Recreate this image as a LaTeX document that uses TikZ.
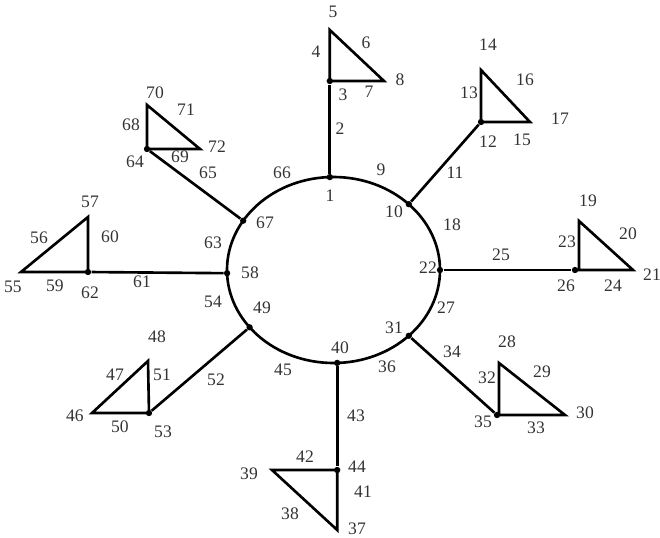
\documentclass[tikz,border=0pt]{standalone}
\usepackage{fontspec}
\setmainfont{Liberation Serif}
\begin{document}
\begin{tikzpicture}[x=0.02cm,y=-0.02cm,
  edge/.style={line width=1.5pt, black, line join=miter},
  dot/.style={circle, fill=black, inner sep=0pt, minimum size=3.6pt},
  lbl/.style={inner sep=0pt, font=\fontsize{10}{12}\selectfont, text=black!80}]
\useasboundingbox (0,0) rectangle (660,538);
% ring
\coordinate (C) at (333.5,270);
\draw[edge] (C) ellipse [x radius=106.5, y radius=93];
% dots on the ring
\node[dot] (n1)  at (329.8,177.1) {};
\node[dot] (n10) at (408.8,204.2) {};
\node[dot] (n22) at (440,270) {};
\node[dot] (n31) at (408.8,335.8) {};
\node[dot] (n40) at (337.2,362.9) {};
\node[dot] (n49) at (249.6,327.3) {};
\node[dot] (n58) at (227.1,273.2) {};
\node[dot] (n67) at (243.2,220.7) {};
% dots at spoke ends
\node[dot] (n3)  at (329.8,81) {};
\node[dot] (n12) at (481,122) {};
\node[dot] (n26) at (575,270) {};
\node[dot] (n35) at (497,415) {};
\node[dot] (n44) at (337.2,470) {};
\node[dot] (n53) at (149,413) {};
\node[dot] (n62) at (88,272) {};
\node[dot] (n64) at (147,149) {};
% triangle vertices
\coordinate (t5) at (329.8,30);   \coordinate (t8) at (384,81);
\coordinate (t14) at (481,70);    \coordinate (t17) at (530,122);
\coordinate (t19) at (579,221);   \coordinate (t23) at (579,270); \coordinate (t21) at (633,270);
\coordinate (t28) at (499,363);   \coordinate (t32) at (499,415); \coordinate (t30) at (565,415);
\coordinate (t39) at (272,470);   \coordinate (t37) at (337.2,530);
\coordinate (t48) at (148,361);   \coordinate (t46) at (92,413);
\coordinate (t57) at (88,217);    \coordinate (t55) at (21,272);
\coordinate (t70) at (147,105);   \coordinate (t72) at (200,149);
% spokes
\draw[edge] (n1) -- (n3);
\draw[edge] (n10) -- (n12);
\draw[edge] (n22) -- (n26);
\draw[edge] (n31) -- (n35);
\draw[edge] (n40) -- (n44);
\draw[edge] (n49) -- (n53);
\draw[edge] (n58) -- (n62);
\draw[edge] (n67) -- (n64);
% triangles
\draw[edge] (n3.center) -- (t5) -- (t8) -- cycle;
\draw[edge] (n12.center) -- (t14) -- (t17) -- cycle;
\draw[edge] (n26.center) -- (t21) -- (t19) -- (t23);
\draw[edge] (n35.center) -- (t32) -- (t28) -- (t30) -- cycle;
\draw[edge] (n44.center) -- (t39) -- (t37) -- cycle;
\draw[edge] (n53.center) -- (t48) -- (t46) -- cycle;
\draw[edge] (n62.center) -- (t57) -- (t55) -- cycle;
\draw[edge] (n64.center) -- (t70) -- (t72) -- cycle;
% labels
\foreach \t/\x/\y in {1/330/196, 2/340/129, 3/343/95, 4/316/52, 5/333/12,
  6/366/43, 7/369/92, 8/400/80, 9/381/170, 10/394/212, 11/455/173,
  12/488/142, 13/469/93, 14/488/45, 15/522/140, 16/525/80, 17/560/119,
  18/452/225, 19/588/201, 20/628/234, 21/652/275, 22/428/268, 23/567/242,
  24/613/286, 25/501/255, 26/566/286, 27/446/308, 28/507/342, 29/542/372,
  30/585/413, 31/394/328, 32/487/378, 33/536/428, 34/452/352, 35/483/422,
  36/387/367, 37/357/529, 38/290/514, 39/249/474, 40/340/348, 41/363/492,
  42/305/457, 43/356/416, 44/357/467, 45/283/370, 46/75/416, 47/115/375,
  48/157/337, 49/262/308, 50/120/427, 51/162/375, 52/216/380, 53/163/432,
  54/213/302, 55/13/287, 56/39/238, 57/90/202, 58/250/273, 59/55/286,
  60/110/237, 61/142/282, 62/90/293, 63/213/243, 64/135/162, 65/208/173,
  66/282/173, 67/265/223, 68/131/125, 69/180/157, 70/155/93, 71/186/110,
  72/217/147}
  \node[lbl] (l\t) at (\x,\y) {\t};
\end{tikzpicture}
\end{document}
